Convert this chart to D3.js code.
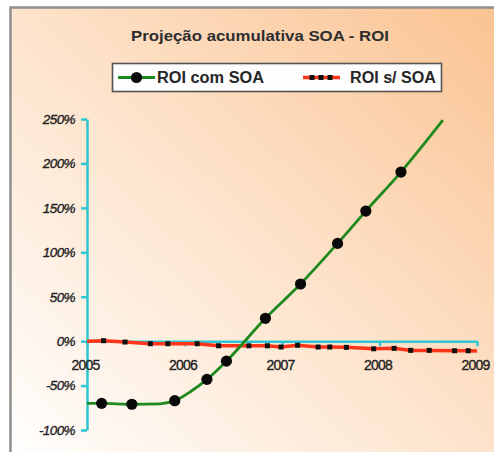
<!DOCTYPE html>
<html>
<head>
<meta charset="utf-8">
<script src="https://cdn.jsdelivr.net/npm/d3@7"></script>
<style>
  html, body { margin: 0; padding: 0; background: #ffffff; }
  svg { display: block; }
</style>
</head>
<body>
<svg id="chart" width="494" height="452"></svg>
<script>
// ROI series with SOA (green line, round markers)
const greenYears  = [2005.0, 2005.15, 2005.46, 2005.75, 2005.90, 2006.06, 2006.23, 2006.43, 2006.83, 2007.19, 2007.57, 2007.86, 2008.22, 2008.65];
const greenValues = [-70, -70, -71, -70.5, -67, -57, -43, -22.5, 25.7, 64.3, 110, 146.4, 190.3, 248.7];
const greenMarker = [false, true, true, false, true, false, true, true, true, true, true, true, true, false];

// ROI series without SOA (red line, small square markers)
const redYears  = [2005.0, 2005.17, 2005.39, 2005.65, 2005.83, 2006.13, 2006.35, 2006.66, 2006.85, 2006.99, 2007.16, 2007.37, 2007.49, 2007.66, 2007.94, 2008.15, 2008.32, 2008.51, 2008.77, 2008.91, 2009.0];
const redValues = [0, 0.5, -1, -2.9, -2.9, -2.9, -5.2, -5.2, -5.2, -6.6, -4.7, -6.6, -6.6, -7, -8.6, -8.1, -10.4, -10.4, -10.8, -10.8, -11];

// Axis ticks
const yTicks = [-100, -50, 0, 50, 100, 150, 200, 250];
const xTicks = [2005, 2006, 2007, 2008, 2009];

const titleText = "Projeção acumulativa SOA - ROI";
const seriesNames = ["ROI com SOA", "ROI s/ SOA"];

const svg = d3.select("#chart");

// Background frame with diagonal gradient
const defs = svg.append("defs");
const grad = defs.append("linearGradient")
  .attr("id", "bg").attr("x1", 0).attr("y1", 1).attr("x2", 1).attr("y2", 0);
grad.append("stop").attr("offset", 0).attr("stop-color", "#ffffff");
grad.append("stop").attr("offset", 0.5).attr("stop-color", "#fde3cb");
grad.append("stop").attr("offset", 1).attr("stop-color", "#fac290");

svg.append("rect")
  .attr("x", 10.5).attr("y", 7.5).attr("width", 500).attr("height", 460)
  .attr("fill", "url(#bg)")
  .attr("stroke", "#8f8f8f").attr("stroke-width", 2.5);

// Scales
const x = d3.scaleLinear().domain([2005, 2009]).range([87, 477]);
const y = d3.scaleLinear().domain([-100, 250]).range([430, 119]);

const axisColor = "#2ec6d2";

// Y axis
const yAxis = svg.append("g")
  .attr("transform", "translate(87,0)")
  .call(d3.axisLeft(y).tickValues(yTicks).tickSize(6).tickSizeOuter(0).tickPadding(6)
    .tickFormat(d => d + "%"));
yAxis.select(".domain").attr("stroke", axisColor).attr("stroke-width", 2.5);
yAxis.selectAll(".tick line").attr("stroke", axisColor).attr("stroke-width", 2.5);
yAxis.selectAll(".tick text")
  .attr("font-family", "Liberation Sans, Arial, sans-serif")
  .attr("font-style", "italic")
  .attr("font-size", 13.5)
  .attr("letter-spacing", -0.6)
  .attr("fill", "#222")
  .attr("stroke", "#222").attr("stroke-width", 0.35);

// X axis along the zero line
const xAxis = svg.append("g")
  .attr("transform", `translate(0,${y(0)})`)
  .call(d3.axisBottom(x).tickValues(xTicks).tickSize(5).tickSizeOuter(0).tickPadding(14)
    .tickFormat(d3.format("d")));
xAxis.select(".domain").attr("stroke", axisColor).attr("stroke-width", 2.5);
xAxis.selectAll(".tick line").attr("stroke", axisColor).attr("stroke-width", 2.5);
xAxis.selectAll(".tick text")
  .attr("font-family", "Liberation Sans, Arial, sans-serif")
  .attr("font-size", 14)
  .attr("letter-spacing", -0.8)
  .attr("dx", -2)
  .attr("fill", "#222")
  .attr("stroke", "#222").attr("stroke-width", 0.35);

// Red series
const redPts = redYears.map((t, i) => [t, redValues[i]]);
svg.append("path")
  .datum(redPts)
  .attr("fill", "none")
  .attr("stroke", "#ff3418")
  .attr("stroke-width", 3.5)
  .attr("d", d3.line().x(d => x(d[0])).y(d => y(d[1])));
svg.append("g").selectAll("rect")
  .data(redPts.slice(1, -1))
  .join("rect")
  .attr("x", d => x(d[0]) - 2.5).attr("y", d => y(d[1]) - 2.5)
  .attr("width", 5).attr("height", 5)
  .attr("fill", "#111");

// Green series
const greenPts = greenYears.map((t, i) => [t, greenValues[i], greenMarker[i]]);
svg.append("path")
  .datum(greenPts)
  .attr("fill", "none")
  .attr("stroke", "#1e8a1e")
  .attr("stroke-width", 2.8)
  .attr("d", d3.line().curve(d3.curveMonotoneX).x(d => x(d[0])).y(d => y(d[1])));
svg.append("g").selectAll("circle")
  .data(greenPts.filter(d => d[2]))
  .join("circle")
  .attr("cx", d => x(d[0])).attr("cy", d => y(d[1]))
  .attr("r", 5.6)
  .attr("fill", "#0a0a0a");

// Title
svg.append("text")
  .attr("x", 260).attr("y", 41)
  .attr("text-anchor", "middle")
  .attr("font-family", "Liberation Sans, Arial, sans-serif")
  .attr("font-weight", "bold")
  .attr("font-size", 15)
  .attr("textLength", 258).attr("lengthAdjust", "spacingAndGlyphs")
  .attr("fill", "#2e2e2e")
  .text(titleText);

// Legend
const lg = svg.append("g");
lg.append("rect")
  .attr("x", 112.5).attr("y", 63.5).attr("width", 329).attr("height", 28)
  .attr("fill", "#fdfdfd").attr("stroke", "#555").attr("stroke-width", 1.6);

lg.append("line")
  .attr("x1", 118).attr("x2", 155).attr("y1", 77.5).attr("y2", 77.5)
  .attr("stroke", "#1e8a1e").attr("stroke-width", 2.8);
lg.append("circle").attr("cx", 136.5).attr("cy", 77.5).attr("r", 5.6).attr("fill", "#0a0a0a");
lg.append("text")
  .attr("x", 157).attr("y", 83)
  .attr("font-family", "Liberation Sans, Arial, sans-serif")
  .attr("font-weight", "bold").attr("font-size", 16)
  .attr("textLength", 107).attr("lengthAdjust", "spacingAndGlyphs")
  .attr("fill", "#262626")
  .text(seriesNames[0]);

lg.append("line")
  .attr("x1", 303).attr("x2", 340).attr("y1", 77.5).attr("y2", 77.5)
  .attr("stroke", "#ff3418").attr("stroke-width", 3.5);
lg.selectAll("rect.sq")
  .data([312, 321, 330])
  .join("rect").attr("class", "sq")
  .attr("x", d => d - 2.5).attr("y", 75).attr("width", 5).attr("height", 5)
  .attr("fill", "#111");
lg.append("text")
  .attr("x", 350).attr("y", 83)
  .attr("font-family", "Liberation Sans, Arial, sans-serif")
  .attr("font-weight", "bold").attr("font-size", 16)
  .attr("textLength", 86).attr("lengthAdjust", "spacingAndGlyphs")
  .attr("fill", "#262626")
  .text(seriesNames[1]);
</script>
</body>
</html>
